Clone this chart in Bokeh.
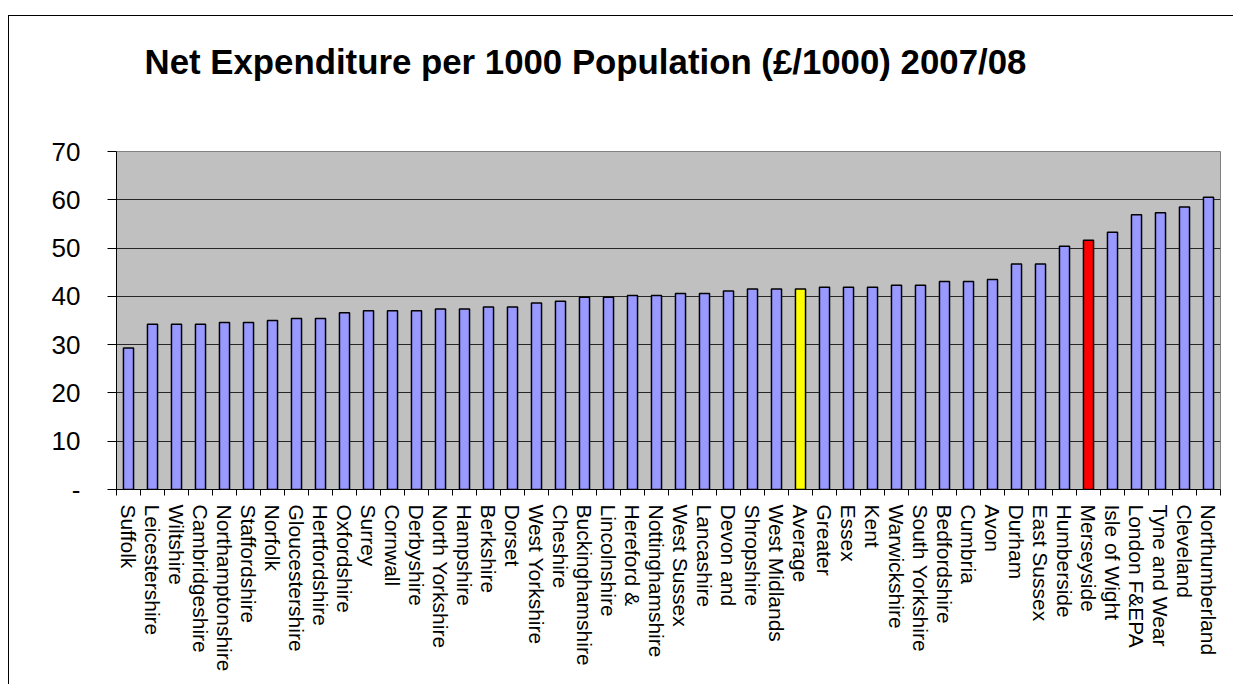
import math

from bokeh.embed import file_html
from bokeh.models import ColumnDataSource, FixedTicker, Range1d, Title
from bokeh.plotting import figure
from bokeh.resources import INLINE

# Net expenditure per 1000 population (£/1000), 2007/08, sorted ascending
authorities = [
    "Suffolk", "Leicestershire", "Wiltshire", "Cambridgeshire", "Northamptonshire",
    "Staffordshire", "Norfolk", "Gloucestershire", "Hertfordshire", "Oxfordshire",
    "Surrey", "Cornwall", "Derbyshire", "North Yorkshire", "Hampshire",
    "Berkshire", "Dorset", "West Yorkshire", "Cheshire", "Buckinghamshire",
    "Lincolnshire", "Hereford &", "Nottinghamshire", "West Sussex", "Lancashire",
    "Devon and", "Shropshire", "West Midlands", "Average", "Greater",
    "Essex", "Kent", "Warwickshire", "South Yorkshire", "Bedfordshire",
    "Cumbria", "Avon", "Durham", "East Sussex", "Humberside",
    "Merseyside", "Isle of Wight", "London F&EPA", "Tyne and Wear", "Cleveland",
    "Northumberland",
]
expenditure = [
    29.3, 34.2, 34.2, 34.2, 34.6,
    34.6, 35.0, 35.4, 35.4, 36.6,
    37.0, 37.0, 37.0, 37.4, 37.4,
    37.8, 37.8, 38.6, 39.0, 39.8,
    39.8, 40.2, 40.2, 40.6, 40.6,
    41.1, 41.5, 41.5, 41.5, 41.9,
    41.9, 41.9, 42.3, 42.3, 43.1,
    43.1, 43.5, 46.7, 46.7, 50.4,
    51.6, 53.3, 56.9, 57.3, 58.5,
    60.5,
]
y_ticks = [0, 10, 20, 30, 40, 50, 60, 70]
chart_title = "Net Expenditure per 1000 Population (£/1000) 2007/08"

average_name = "Average"
local_name = "Merseyside"

bar_colors = []
for name in authorities:
    if name == average_name:
        bar_colors.append("#FFFF00")
    elif name == local_name:
        bar_colors.append("#FF0000")
    else:
        bar_colors.append("#9999FF")

positions = list(range(len(authorities)))
source = ColumnDataSource(dict(x=positions, value=expenditure, color=bar_colors, name=authorities))

p = figure(
    width=1225,
    height=669,
    output_backend="svg",
    toolbar_location=None,
    title=None,
    x_range=Range1d(-0.5, len(authorities) - 0.5),
    y_range=Range1d(0, 70),
    min_border_left=107,
    min_border_right=14,
    min_border_top=135,
    min_border_bottom=196,
    margin=(15, 0, 0, 8),
    styles={"border-left": "1px solid black", "border-top": "1px solid black"},
)

p.background_fill_color = "#C0C0C0"
p.border_fill_color = "white"
p.outline_line_color = "#808080"
p.outline_line_width = 1

p.vbar(x="x", top="value", width=0.42, bottom=0, source=source,
       fill_color="color", line_color="black", line_width=1.5)

# blank gap between the heading and the plot area, then the heading itself
p.add_layout(Title(text=" ", text_font_size="1px", standoff=68), "above")
p.add_layout(Title(
    text=chart_title,
    text_font="Liberation Sans", text_font_size="34.8px", text_font_style="bold",
    text_color="black", align="left", offset=28, standoff=0,
), "above")

# y axis
p.yaxis.ticker = FixedTicker(ticks=y_ticks)
p.yaxis.major_label_overrides = {0: "-"}
p.yaxis.major_label_text_font = "Liberation Sans"
p.yaxis.major_label_text_font_size = "26px"
p.yaxis.major_label_text_color = "black"
p.yaxis.major_label_standoff = 27
p.yaxis.axis_line_color = "black"
p.yaxis.axis_line_width = 1
p.yaxis.major_tick_line_color = "black"
p.yaxis.major_tick_out = 9
p.yaxis.major_tick_in = 0
p.yaxis.minor_tick_line_color = None

p.ygrid.ticker = FixedTicker(ticks=y_ticks)
p.ygrid.grid_line_color = "#262626"
p.ygrid.grid_line_width = 1
p.xgrid.grid_line_color = None

# x axis: labels centred on bars, tick marks between categories
p.xaxis.ticker = FixedTicker(ticks=positions, minor_ticks=[i - 0.5 for i in range(len(authorities) + 1)])
p.xaxis.major_label_overrides = {i: n for i, n in zip(positions, authorities)}
p.xaxis.major_label_orientation = -math.pi / 2
p.xaxis.major_label_text_font = "Liberation Sans"
p.xaxis.major_label_text_font_size = "21px"
p.xaxis.major_label_text_color = "black"
p.xaxis.major_label_standoff = 6
p.xaxis.axis_line_color = "black"
p.xaxis.major_tick_line_color = None
p.xaxis.major_tick_out = 9
p.xaxis.major_tick_in = 0
p.xaxis.minor_tick_line_color = "black"
p.xaxis.minor_tick_out = 6
p.xaxis.minor_tick_in = 0

open("out.html", "w").write(file_html(p, INLINE))
